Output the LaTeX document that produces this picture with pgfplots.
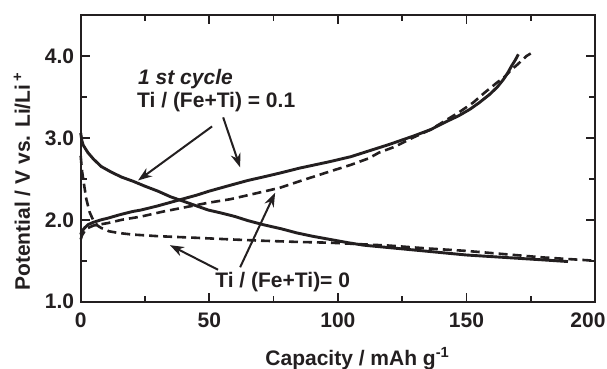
\documentclass[border=0pt]{standalone}
\usepackage{pgfplots}
\pgfplotsset{compat=1.18}
\usetikzlibrary{arrows.meta}
\usepackage{fontspec}
\setmainfont{Liberation Sans}
\definecolor{ink}{RGB}{35,31,32}
\newcommand{\lab}{\fontsize{21}{25}\selectfont\bfseries}
\begin{document}
\begin{tikzpicture}
\begin{axis}[name=ax,
  scale only axis, width=514.3pt, height=286.7pt,
  xmin=0, xmax=200, ymin=1, ymax=4.5,
  xtick={0,50,100,150,200}, xticklabels={0,50,100,150,\hspace*{-14pt}200},
  minor xtick={25,75,125,175},
  ytick={1,2,3,4}, yticklabels={1.0,2.0,3.0,4.0},
  minor ytick={1.5,2.5,3.5},
  tick align=inside,
  major tick length=9pt, minor tick length=6pt,
  axis line style={line width=2pt, ink},
  every tick/.style={line width=1.7pt, ink},
  tick label style={font=\lab, text=ink},
  xticklabel style={yshift=-8pt},
  yticklabel style={xshift=-3pt},
  xlabel={Capacity / mAh g\textsuperscript{-1}},
  ylabel={Potential / V vs. Li/Li\,\textsuperscript{+}},
  label style={font=\lab, text=ink},
  xlabel style={at={(axis description cs:0.538,-0.221)}, anchor=base},
  ylabel style={at={(axis description cs:-0.114,0.42)}, anchor=center, rotate=0},
  clip=false,
]
% Ti/(Fe+Ti)=0.1 discharge
\addplot[ink, line width=2.9pt] coordinates {
(0,3.06)(0.5,2.96)(1,2.91)(2,2.86)(2.8,2.82)(5,2.74)(8,2.65)(12,2.58)(16,2.52)
(20.4,2.47)(25,2.41)(30,2.35)(35,2.28)(40.5,2.22)(45,2.17)(49.5,2.12)(55,2.08)
(60,2.04)(65,1.99)(71,1.94)(78,1.89)(84,1.84)(90,1.80)(97,1.76)(104,1.72)
(110,1.69)(120,1.66)(130,1.63)(140,1.60)(150,1.57)(160,1.55)(170,1.53)
(180,1.51)(189.5,1.49)};
% Ti/(Fe+Ti)=0.1 charge
\addplot[ink, line width=2.9pt] coordinates {
(0,1.82)(0.5,1.86)(1.5,1.90)(2.8,1.94)(5,1.97)(8,2.00)(10.6,2.02)(15,2.06)
(20,2.10)(23.6,2.12)(30,2.17)(39.2,2.25)(45,2.30)(50,2.35)(58,2.42)(65,2.48)
(72,2.53)(77.4,2.57)(85,2.63)(96.9,2.71)(105,2.77)(112,2.84)(120,2.92)
(129.2,3.02)(136,3.10)(142.3,3.20)(147,3.27)(151.4,3.35)(155,3.43)(159,3.53)
(162,3.62)(164.3,3.71)(166,3.79)(167.6,3.88)(169,3.95)(170.2,4.02)};
% Ti/(Fe+Ti)=0 discharge
\addplot[ink, line width=2.6pt, dash pattern=on 9pt off 5pt] coordinates {
(0,2.78)(0.5,2.60)(1.2,2.45)(2.2,2.25)(3.5,2.09)(4.8,2.00)(6.5,1.93)(8,1.90)
(11,1.86)(14.5,1.84)(20,1.82)(30,1.80)(45,1.78)(58.6,1.76)(70,1.745)(84,1.73)
(97,1.72)(110,1.70)(120,1.685)(135,1.65)(150,1.62)(165,1.58)(180,1.54)
(190,1.52)(200,1.50)};
% Ti/(Fe+Ti)=0 charge
\addplot[ink, line width=2.6pt, dash pattern=on 9pt off 5pt] coordinates {
(0,1.76)(0.5,1.81)(1.5,1.86)(2.8,1.90)(5,1.93)(10.6,1.96)(16,2.00)(23.6,2.04)
(32,2.10)(41.8,2.16)(50,2.21)(58,2.25)(65,2.30)(77.4,2.39)(87,2.49)(96.9,2.59)
(105,2.67)(112,2.75)(116,2.82)(122,2.89)(129,3.00)(136,3.10)(142.3,3.22)
(147,3.31)(152.6,3.43)(157,3.55)(161.7,3.67)(165,3.75)(167.1,3.82)(170,3.90)
(173.4,4.00)(175,4.03)};
% annotations
\node[anchor=base west, inner sep=0, font=\lab\itshape, text=ink] at (axis cs:22.3,3.653) {1 st cycle};
\node[anchor=base west, inner sep=0, font=\lab, text=ink] at (axis cs:21.9,3.372) {Ti / (Fe+Ti) = 0.1};
\node[anchor=base west, inner sep=0, font=\lab, text=ink] at (axis cs:52.3,1.168) {Ti / (Fe+Ti)= 0};
\draw[ink, line width=2pt, -{Stealth[length=14pt,width=10pt]}] (axis cs:51.1,3.14) -- (axis cs:22.3,2.48);
\draw[ink, line width=2pt, -{Stealth[length=14pt,width=10pt]}] (axis cs:55.4,3.25) -- (axis cs:62.0,2.64);
\draw[ink, line width=2pt, -{Stealth[length=14pt,width=10pt]}] (axis cs:53.4,1.39) -- (axis cs:34.7,1.69);
\draw[ink, line width=2pt, -{Stealth[length=14pt,width=10pt]}] (axis cs:62.0,1.42) -- (axis cs:75.6,2.33);
\end{axis}
\pgfresetboundingbox
\path ([shift={(-80.7pt,-67.3pt)}]ax.south west) rectangle ([shift={(12pt,15pt)}]ax.north east);
\end{tikzpicture}
\end{document}
